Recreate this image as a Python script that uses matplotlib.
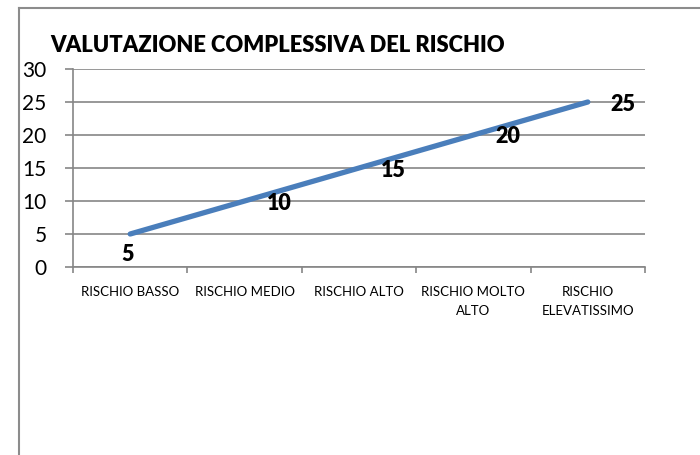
import matplotlib
matplotlib.use("Agg")
import matplotlib.pyplot as plt
from matplotlib.lines import Line2D

categories = ["RISCHIO BASSO", "RISCHIO MEDIO", "RISCHIO ALTO",
              "RISCHIO MOLTO\nALTO", "RISCHIO\nELEVATISSIMO"]
values = [5, 10, 15, 20, 25]
y_ticks = [0, 5, 10, 15, 20, 25, 30]

# offsets of the data labels (points), as placed in the original
label_offsets = [(-2, -15), (25, -1.5), (25, -1.5), (25, -1), (25, -1.5)]

plt.rcParams['font.family'] = ['Lato', 'DejaVu Sans']

W, H = 700, 455
fig = plt.figure(figsize=(7, 4.55), dpi=100)
ax = fig.add_axes([73 / W, 1 - 267 / H, (645 - 73) / W, (267 - 69) / H])

x = list(range(len(categories)))
ax.plot(x, values, color="#4A7EBB", linewidth=3.8, solid_capstyle="round")

for xi, v, off in zip(x, values, label_offsets):
    ax.annotate(str(v), (xi, v), xytext=off, textcoords="offset points",
                ha="center", va="center", fontsize=15.5, fontweight="heavy")

ax.set_xlim(-0.5, len(categories) - 0.5)
ax.set_ylim(0, 30)
ax.set_yticks(y_ticks)
ax.yaxis.grid(True, color="#868686", linewidth=1.2)
ax.set_axisbelow(True)
ax.tick_params(axis="y", length=6, width=1.2, color="#868686", labelsize=15, pad=13)

ax.set_xticks([i - 0.5 for i in range(len(categories) + 1)], minor=False)
ax.set_xticklabels([])
ax.set_xticks(x, minor=True)
ax.set_xticklabels(categories, minor=True, fontsize=9.5, linespacing=1.65)
ax.tick_params(axis="x", which="minor", length=0, pad=14)
ax.tick_params(axis="x", which="major", length=4, width=1.2, color="#868686")

for s in ["top", "right"]:
    ax.spines[s].set_visible(False)
for s in ["left", "bottom"]:
    ax.spines[s].set_color("#868686")
    ax.spines[s].set_linewidth(1.2)

fig.text(50 / W, 1 - 46 / H, "VALUTAZIONE COMPLESSIVA DEL RISCHIO",
         fontsize=15.8, fontweight="heavy", va="center", ha="left")

# chart frame (only left and top edges visible in the crop)
fig.add_artist(Line2D([19 / W, 19 / W], [0, 1 - 8 / H], transform=fig.transFigure,
                      color="#8c8c8c", linewidth=1.5))
fig.add_artist(Line2D([19 / W, 1], [1 - 8 / H, 1 - 8 / H], transform=fig.transFigure,
                      color="#8c8c8c", linewidth=1.5))

fig.savefig("out.png", dpi=100)
